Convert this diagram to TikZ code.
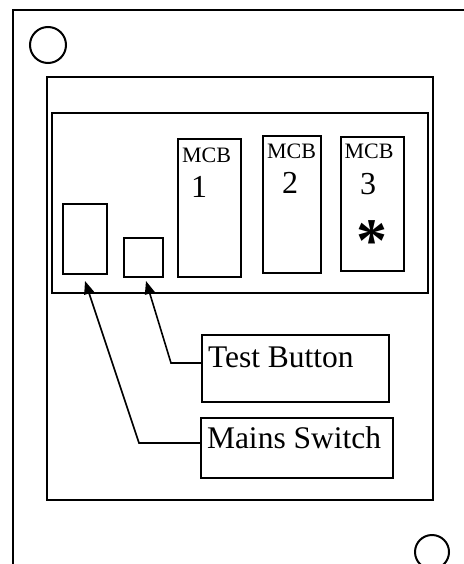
\documentclass[tikz,border=0pt]{standalone}
\usepackage{fontspec}
\setmainfont{Liberation Serif}
\usetikzlibrary{arrows.meta}
\begin{document}
\begin{tikzpicture}[x=1pt,y=-1pt,line width=2pt,
  box/.style={draw,line width=2pt,inner sep=0pt},
  conn/.style={line width=1.6pt,-{Triangle[length=13pt,width=10pt]}},
  mcbtxt/.style={anchor=base,inner sep=0pt,font=\fontsize{22}{22}\selectfont},
  numtxt/.style={anchor=base,inner sep=0pt,font=\fontsize{32}{32}\selectfont},
  lbltxt/.style={anchor=base west,inner sep=0pt,font=\fontsize{31.5}{31.5}\selectfont}]
\useasboundingbox (0,0) rectangle (463,564);
% outer frame (cut by the picture edges)
\draw (13,570) -- (13,10) -- (470,10);
\draw (48,45) circle[radius=18];
\draw (432,552) circle[radius=17];
% panel and strip
\node[box,minimum width=386pt,minimum height=423pt] (panel) at (240,288.5) {};
\node[box,minimum width=376pt,minimum height=180pt] (strip) at (240,203) {};
% devices
\node[box,minimum width=44pt,minimum height=70pt] (ms) at (85,239) {};
\node[box,minimum width=39pt,minimum height=39pt] (tb) at (143.5,257.5) {};
\node[box,minimum width=63pt,minimum height=138pt] (m1) at (209.5,208) {};
\node[box,minimum width=58pt,minimum height=137pt] (m2) at (292,204.5) {};
\node[box,minimum width=63pt,minimum height=134pt] (m3) at (372.5,204) {};
\node[mcbtxt] (m1a) at (206.5,162) {MCB};
\node[numtxt] (m1b) at (199,197) {1};
\node[mcbtxt] (m2a) at (291.5,159) {MCB};
\node[numtxt] (m2b) at (290,193) {2};
\node[mcbtxt] (m3a) at (369,159) {MCB};
\node[numtxt] (m3b) at (368,194) {3};
\node[inner sep=0pt,font=\bfseries\fontsize{62}{62}\selectfont] (ast) at (372,241) {*};
% labels
\node[box,minimum width=187pt,minimum height=67pt] (tlab) at (295.5,368.5) {};
\node[lbltxt] (tlabt) at (207,367) {Test Button};
\node[box,minimum width=192pt,minimum height=60pt] (mlab) at (297,448) {};
\node[lbltxt] (mlabt) at (206,448) {Mains Switch};
% connectors
\draw[conn] ([yshift=5.5pt]tlab.west) -- ++(-30,0) -- ([xshift=2.5pt,yshift=-3pt]tb.south);
\draw[conn] ([yshift=5pt]mlab.west) -- ++(-61,0) -- ([yshift=-6pt]ms.south);
\end{tikzpicture}
\end{document}
